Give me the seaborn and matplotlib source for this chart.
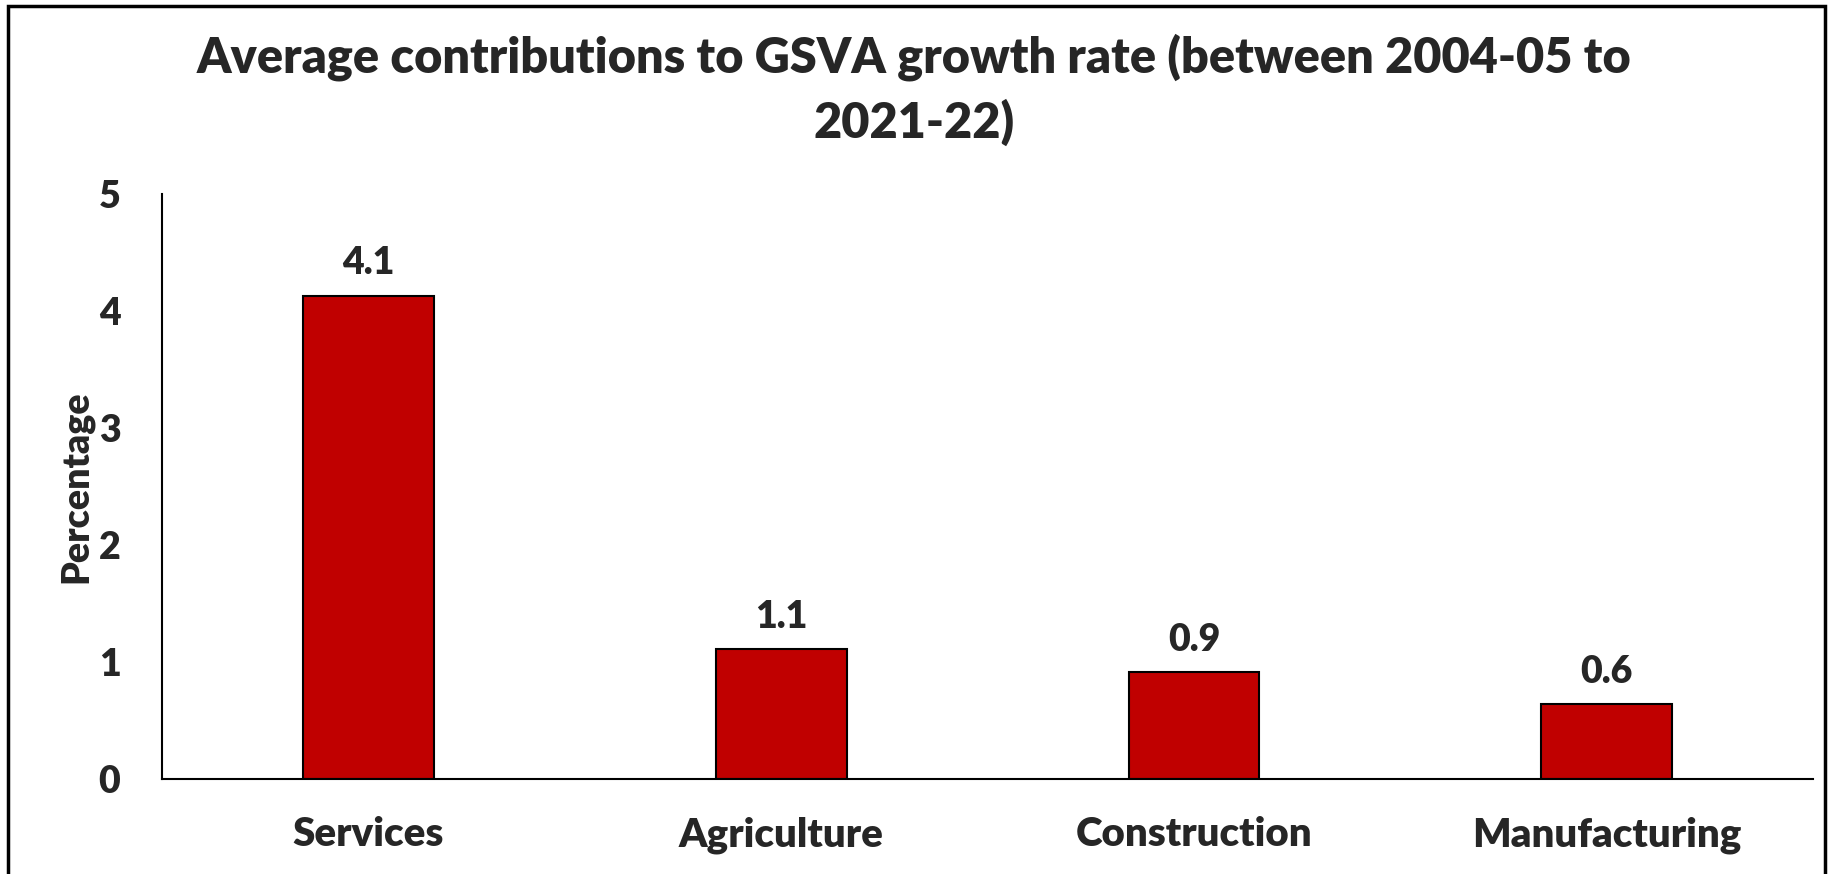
import pandas as pd
import seaborn as sns
import matplotlib.pyplot as plt
from matplotlib.patches import Rectangle

# Chart data
sectors = ['Services', 'Agriculture', 'Construction', 'Manufacturing']
contribution = [4.13, 1.11, 0.91, 0.64]
yticks = [0, 1, 2, 3, 4, 5]

df = pd.DataFrame({'Sector': sectors, 'Percentage': contribution})

sns.set_style('white')
plt.rcParams['font.family'] = ['Lato', 'DejaVu Sans']
plt.rcParams['font.weight'] = 'heavy'

fig = plt.figure(figsize=(18.29, 8.74), dpi=100)
ax = fig.add_axes([0.0886, 0.109, 0.9027, 0.669])

sns.barplot(data=df, x='Sector', y='Percentage', color='#C00000',
            edgecolor='black', linewidth=1.5, width=0.317, saturation=1, ax=ax)

# Data labels
for c in ax.containers:
    ax.bar_label(c, fmt='%.1f', padding=11, fontsize=27, fontweight='heavy')

ax.set_ylim(0, 5)
ax.set_yticks(yticks)
ax.set_yticklabels([str(t) for t in yticks], fontsize=27, fontweight='heavy')
ax.tick_params(axis='y', pad=30, length=0)
ax.tick_params(axis='x', pad=27, length=0, labelsize=29)
for lbl in ax.get_xticklabels():
    lbl.set_fontweight('heavy')
ax.set_xlabel('')
ax.set_ylabel('Percentage', fontsize=27, fontweight='heavy', labelpad=4)

for s in ['top', 'right']:
    ax.spines[s].set_visible(False)
for s in ['left', 'bottom']:
    ax.spines[s].set_color('black')
    ax.spines[s].set_linewidth(1.5)

fig.suptitle('Average contributions to GSVA growth rate (between 2004-05 to\n2021-22)',
             fontsize=35, fontweight='heavy', y=0.962, linespacing=1.45)

# Outer border of the chart area
fig.patches.append(Rectangle((0.0045, -0.01), 0.9935, 1.003, transform=fig.transFigure,
                             fill=False, edgecolor='black', linewidth=2.5))

plt.savefig('out.png', dpi=100)
plt.close()
